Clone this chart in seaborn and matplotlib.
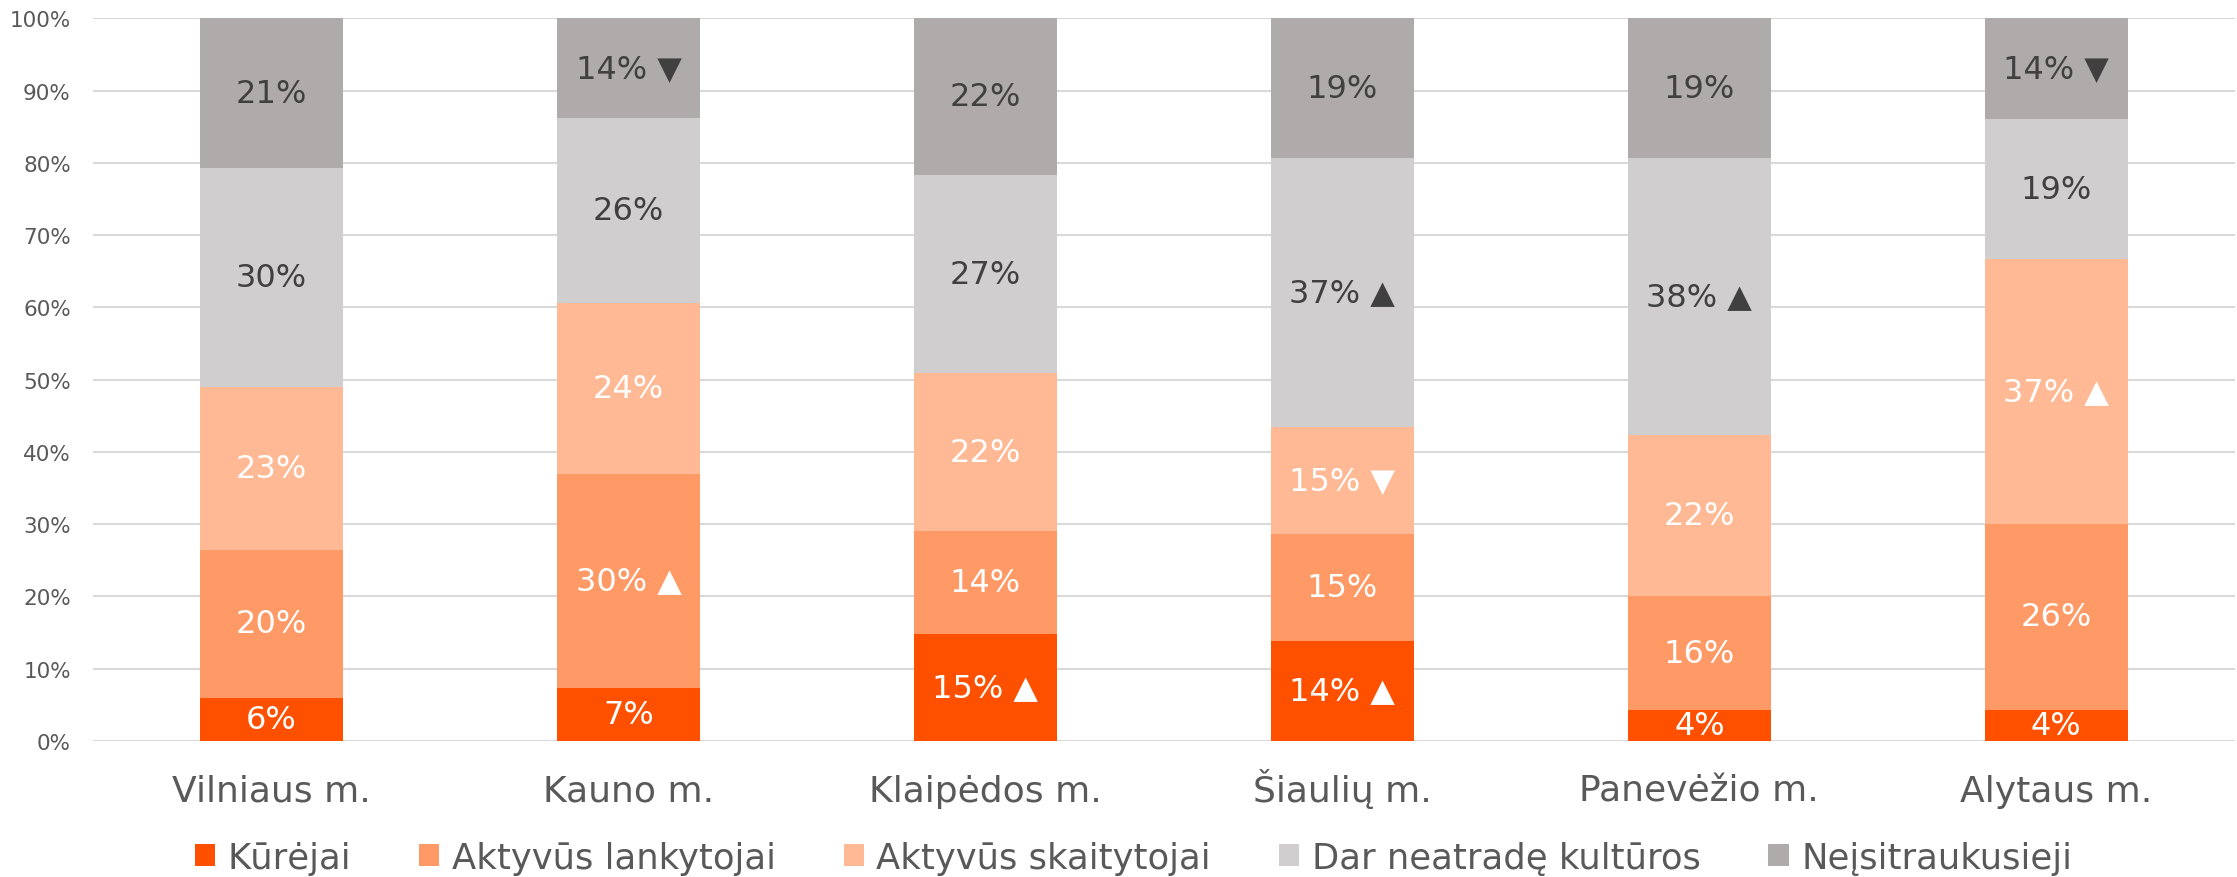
import matplotlib
matplotlib.use("Agg")
import matplotlib.pyplot as plt
import seaborn as sns
import numpy as np
from matplotlib.patches import Patch

categories = ["Vilniaus m.", "Kauno m.", "Klaipėdos m.", "Šiaulių m.", "Panevėžio m.", "Alytaus m."]
series_names = ["Kūrėjai", "Aktyvūs lankytojai", "Aktyvūs skaitytojai", "Dar neatradę kultūros", "Neįsitraukusieji"]
kurejai = [6.0, 7.3, 14.8, 13.8, 4.3, 4.3]
lankytojai = [20.4, 29.7, 14.2, 14.8, 15.7, 25.7]
skaitytojai = [22.6, 23.6, 21.9, 14.8, 22.3, 36.7]
neatrade = [30.3, 25.6, 27.4, 37.2, 38.3, 19.3]
neisitrauk = [20.7, 13.8, 21.7, 19.4, 19.4, 14.0]
# significance markers: "" none, "up", "down"
marks_kurejai = ["", "", "up", "up", "", ""]
marks_lankytojai = ["", "up", "", "", "", ""]
marks_skaitytojai = ["", "", "", "down", "", "up"]
marks_neatrade = ["", "", "", "up", "up", ""]
marks_neisitrauk = ["", "down", "", "", "", "down"]
yticks = [0, 10, 20, 30, 40, 50, 60, 70, 80, 90, 100]

series = [kurejai, lankytojai, skaitytojai, neatrade, neisitrauk]
marks = [marks_kurejai, marks_lankytojai, marks_skaitytojai, marks_neatrade, marks_neisitrauk]
colors = ["#FF5000", "#FF9966", "#FFB995", "#D0CECF", "#AFABAA"]
text_colors = ["white", "white", "white", "#404040", "#404040"]

sns.set_theme(style="white")
plt.rcParams["font.family"] = ["DejaVu Sans"]

fig = plt.figure(figsize=(22.37, 8.78), dpi=100)
ax = fig.add_axes([0.0416, 0.155, 0.9574, 0.823])

bottom = np.zeros(len(categories))
for vals, col in zip(series, colors):
    sns.barplot(x=categories, y=vals, bottom=bottom, color=col, width=0.4,
                errorbar=None, ax=ax, saturation=1, zorder=3, linewidth=0)
    bottom = bottom + np.array(vals)

arrow = {"up": " ▲", "down": " ▼", "": ""}
bottom = np.zeros(len(categories))
for vals, mk, tc in zip(series, marks, text_colors):
    for i, (v, m) in enumerate(zip(vals, mk)):
        ax.text(i, bottom[i] + v / 2, f"{v:.0f}%" + arrow[m], ha="center", va="center",
                fontsize=23, color=tc, zorder=5)
    bottom = bottom + np.array(vals)

ax.set_ylim(0, 100)
ax.set_xlim(-0.5, len(categories) - 0.5)
ax.set_yticks(yticks)
ax.set_yticklabels([f"{t}%" for t in yticks], fontsize=15.5, color="#595959")
ax.tick_params(axis="y", length=0, pad=16)
ax.tick_params(axis="x", length=0, pad=43, labelsize=26, labelcolor="#595959")
for lbl in ax.get_xticklabels():
    lbl.set_verticalalignment("baseline")
ax.yaxis.grid(True, color="#D9D9D9", linewidth=1.5, zorder=0)
ax.set_axisbelow(True)
for s in ax.spines.values():
    s.set_visible(False)

handles = [Patch(facecolor=c, edgecolor="none", label=n) for c, n in zip(colors, series_names)]
fig.legend(handles=handles, loc="center", bbox_to_anchor=(0.5067, 0.022), ncol=5, frameon=False,
           fontsize=25.5, handlelength=0.57, handleheight=0.57, handletextpad=0.35,
           columnspacing=1.92, labelcolor="#595959")

fig.savefig("out.png", dpi=100)
